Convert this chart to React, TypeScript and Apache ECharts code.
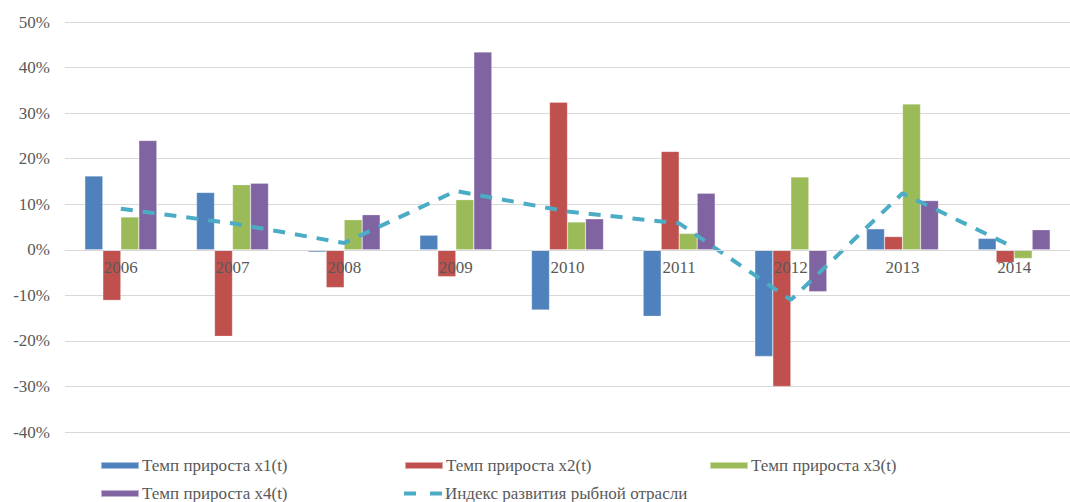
import React, { useEffect, useRef } from "react";
import * as echarts from "echarts";

const years = ["2006", "2007", "2008", "2009", "2010", "2011", "2012", "2013", "2014"];
const x1 = [16.2, 12.6, -0.5, 3.2, -13.2, -14.6, -23.4, 4.6, 2.5];
const x2 = [-11.1, -19.0, -8.3, -5.9, 32.4, 21.6, -30.0, 2.9, -2.8];
const x3 = [7.2, 14.3, 6.6, 11.0, 6.1, 3.6, 16.0, 32.0, -1.9];
const x4 = [24.0, 14.6, 7.7, 43.4, 6.8, 12.4, -9.2, 10.8, 4.4];
const indexLine = [9.0, 5.8, 1.5, 12.9, 8.4, 5.8, -11.0, 12.4, 0.5];

const names = [
  "Темп прироста x1(t)",
  "Темп прироста x2(t)",
  "Темп прироста x3(t)",
  "Темп прироста x4(t)",
  "Индекс развития рыбной отрасли",
];
const colors = ["#4F81BD", "#C0504D", "#9BBB59", "#8064A2", "#4BACC6"];

const FONT = "Liberation Serif, serif";

export default function App() {
  const ref = useRef<HTMLDivElement>(null);
  useEffect(() => {
    if (!ref.current) return;
    const chart = echarts.init(ref.current, undefined, { renderer: "svg" });
    const barData = [x1, x2, x3, x4];
    const legendPos = [
      { left: 100, top: 457 },
      { left: 404, top: 457 },
      { left: 709, top: 457 },
      { left: 100, top: 485 },
      { left: 404, top: 485 },
    ];
    const option: any = {
      animation: false,
      textStyle: { fontFamily: FONT },
      grid: { left: 65, right: -11, top: 22, bottom: 70, containLabel: false },
      legend: names.map((n, i) => {
        const l: any = {
          data: [n],
          left: legendPos[i].left,
          top: legendPos[i].top,
          itemWidth: 38,
          itemHeight: i < 4 ? 7 : 4,
          itemGap: 0,
          padding: 0,
          textStyle: { fontFamily: FONT, fontSize: 17, color: "#595959", padding: [0, 0, 0, -2] },
          icon: i < 4 ? "rect" : "path://M0,0h12v4h-12z M26,0h12v4h-12z",
        };
        return l;
      }),
      xAxis: {
        type: "category",
        data: years,
        offset: -182,
        z: 10,
        axisLine: { onZero: false, lineStyle: { color: "#D9D9D9", width: 1 } },
        axisTick: { show: false },
        axisLabel: { color: "#595959", fontSize: 17, fontFamily: FONT, margin: 9 },
      },
      yAxis: {
        type: "value",
        min: -40,
        max: 50,
        interval: 10,
        axisLine: { show: false },
        axisTick: { show: false },
        splitLine: { lineStyle: { color: "#D9D9D9", width: 1 } },
        axisLabel: { formatter: "{value}%", color: "#595959", fontSize: 17, fontFamily: FONT, margin: 15 },
      },
      series: [
        ...barData.map((d, i) => ({
          name: names[i],
          type: "bar",
          data: d,
          barWidth: 18,
          barGap: "0%",
          itemStyle: { color: colors[i], borderColor: "rgba(255,255,255,0.5)", borderWidth: 0.5 },
        })),
        {
          name: names[4],
          type: "line",
          data: indexLine,
          symbol: "none",
          lineStyle: { color: colors[4], width: 4, type: [12, 10] },
          itemStyle: { color: colors[4] },
          z: 5,
        },
      ],
    };
    chart.setOption(option);
    return () => chart.dispose();
  }, []);
  return (
    <div
      ref={ref}
      style={{ position: "absolute", left: 0, top: 0, width: 1070, height: 502, background: "#fff" }}
    />
  );
}
